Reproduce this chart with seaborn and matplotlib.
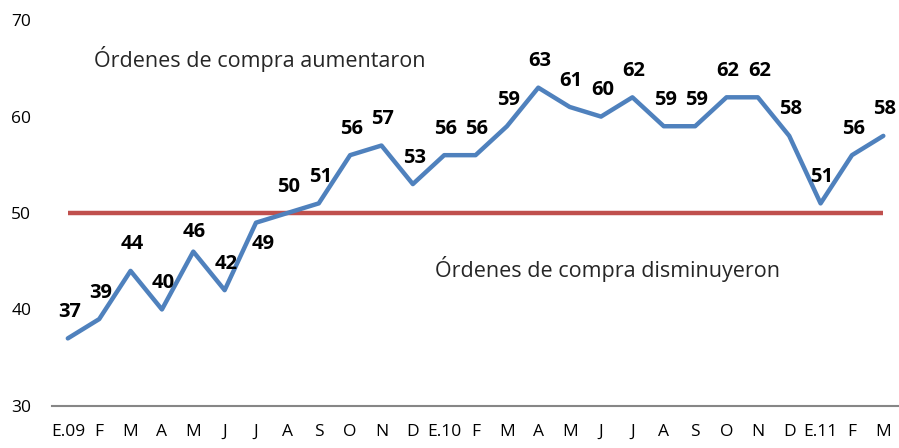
import numpy as np
import pandas as pd
import matplotlib
matplotlib.use("Agg")
import matplotlib.pyplot as plt
import seaborn as sns

# Month labels and index values
months = ["E.09", "F", "M", "A", "M", "J", "J", "A", "S", "O", "N", "D",
          "E.10", "F", "M", "A", "M", "J", "J", "A", "S", "O", "N", "D",
          "E.11", "F", "M"]
values = [37, 39, 44, 40, 46, 42, 49, 50, 51, 56, 57, 53,
          56, 56, 59, 63, 61, 60, 62, 59, 59, 62, 62, 58,
          51, 56, 58]
threshold = 50
y_ticks = [30, 40, 50, 60, 70]

BLUE = "#4F81BD"
RED = "#C0504D"

sns.set_theme(style="white")
plt.rcParams["font.family"] = ["Open Sans", "DejaVu Sans"]

df = pd.DataFrame({"pos": np.arange(len(values)), "value": values})

fig = plt.figure(figsize=(8.99, 4.48), dpi=100)
ax = fig.add_axes([0.058, 0.094, 0.942, 0.861])

ax.hlines(threshold, df["pos"].iloc[0], df["pos"].iloc[-1], color=RED, linewidth=3.2, zorder=1)
sns.lineplot(data=df, x="pos", y="value", color=BLUE, linewidth=3.2, ax=ax, zorder=2)

# data labels: most sit above the point, a couple are nudged
label_offsets = {4: (1, 14), 6: (5, -15)}
for i, v in enumerate(values):
    dx, dy = label_offsets.get(i, (1, 19))
    ax.annotate(str(v), (i, v), xytext=(dx, dy), textcoords="offset points",
                ha="center", va="center", fontsize=14.5, fontweight="bold", color="black")

ax.text(0.85, 66, "Órdenes de compra aumentaron", fontsize=15.5, va="center", ha="left")
ax.text(11.7, 44.2, "Órdenes de compra disminuyeron", fontsize=15.5, va="center", ha="left")

ax.set_xlim(-0.5, len(values) - 0.5)
ax.set_ylim(30, 70)
ax.set_yticks(y_ticks)
ax.set_xticks(df["pos"])
ax.set_xticklabels(months)
ax.set_xlabel("")
ax.set_ylabel("")
ax.tick_params(axis="both", length=0, labelsize=12.5, colors="black")
ax.tick_params(axis="y", pad=15)
ax.tick_params(axis="x", pad=13)

for side in ["top", "right", "left"]:
    ax.spines[side].set_visible(False)
ax.spines["bottom"].set_color("#868686")
ax.spines["bottom"].set_linewidth(1.5)

fig.savefig("out.png", dpi=100)
